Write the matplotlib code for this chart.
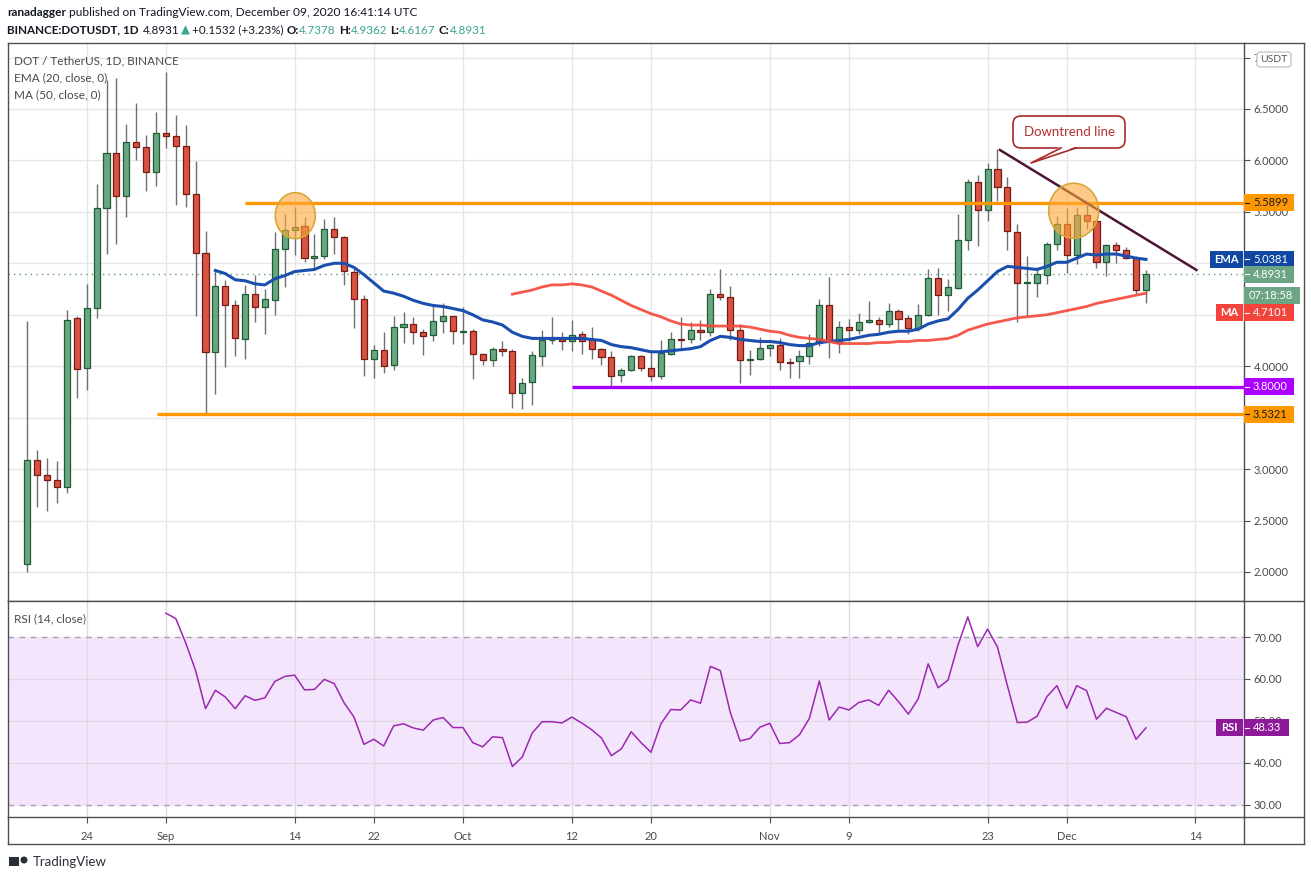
import matplotlib
matplotlib.use('Agg')
import matplotlib.pyplot as plt
from matplotlib.patches import Rectangle, Ellipse, FancyBboxPatch, Polygon
import numpy as np
import pandas as pd

plt.rcParams['font.family'] = ['Lato', 'DejaVu Sans']

# daily candles, BINANCE DOT/USDT, 18 Aug - 9 Dec 2020
dates = pd.date_range('2020-08-18', '2020-12-09', freq='D')

opens = [2.08, 3.09, 2.94, 2.89, 2.83, 4.47, 3.98, 4.57, 5.54, 6.07,
         5.65, 6.18, 6.13, 5.89, 6.27, 6.24, 6.14, 5.67, 5.10, 4.14,
         4.78, 4.59, 4.26, 4.70, 4.58, 4.64, 5.14, 5.32, 5.36, 5.05,
         5.07, 5.33, 5.26, 4.92, 4.65, 4.07, 4.16, 4.01, 4.38, 4.41,
         4.33, 4.30, 4.44, 4.49, 4.335, 4.34, 4.12, 4.06, 4.17, 4.15,
         3.74, 3.85, 4.10, 4.25, 4.26, 4.24, 4.31, 4.26, 4.17, 4.09,
         3.91, 3.96, 4.10, 3.98, 3.90, 4.12, 4.26, 4.26, 4.35, 4.33,
         4.70, 4.67, 4.35, 4.06, 4.07, 4.18, 4.21, 4.04, 4.05, 4.10,
         4.23, 4.59, 4.23, 4.38, 4.35, 4.43, 4.45, 4.41, 4.54, 4.47,
         4.37, 4.50, 4.86, 4.69, 4.76, 5.23, 5.79, 5.52, 5.92, 5.74,
         5.30, 4.81, 4.81, 4.89, 5.19, 5.38, 5.08, 5.47, 5.41, 5.01,
         5.18, 5.13, 5.05, 4.7378]
highs = [4.44, 3.19, 3.11, 3.08, 4.55, 4.49, 4.80, 5.77, 6.78, 6.80,
         6.35, 6.56, 6.25, 6.47, 6.86, 6.44, 6.34, 5.99, 5.31, 4.94,
         4.84, 4.64, 4.79, 4.89, 4.75, 5.30, 5.48, 5.55, 5.45, 5.28,
         5.43, 5.45, 5.27, 4.97, 4.69, 4.21, 4.33, 4.49, 4.53, 4.48,
         4.36, 4.59, 4.61, 4.49, 4.58, 4.36, 4.13, 4.19, 4.24, 4.17,
         3.89, 4.15, 4.35, 4.48, 4.33, 4.45, 4.34, 4.38, 4.18, 4.15,
         3.98, 4.11, 4.11, 4.14, 4.25, 4.33, 4.48, 4.43, 4.45, 4.75,
         4.94, 4.78, 4.41, 4.16, 4.28, 4.22, 4.27, 4.08, 4.16, 4.31,
         4.65, 4.87, 4.44, 4.46, 4.52, 4.63, 4.48, 4.61, 4.56, 4.50,
         4.60, 4.94, 4.95, 4.85, 5.48, 5.82, 5.86, 5.97, 6.11, 5.84,
         5.38, 5.07, 4.96, 5.21, 5.46, 5.54, 5.55, 5.57, 5.43, 5.19,
         5.21, 5.16, 5.07, 4.9362]
lows = [2.00, 2.63, 2.59, 2.67, 2.77, 3.69, 3.77, 4.47, 5.09, 5.19,
        5.45, 6.00, 5.70, 5.75, 6.12, 5.57, 5.55, 4.49, 3.53, 3.73,
        3.99, 4.10, 4.07, 4.43, 4.31, 4.50, 4.77, 5.08, 5.01, 4.95,
        5.04, 5.09, 4.79, 4.37, 3.90, 3.89, 3.93, 3.96, 4.23, 4.22,
        4.11, 4.24, 4.32, 4.22, 4.22, 3.88, 4.01, 4.00, 4.10, 3.59,
        3.58, 3.62, 4.00, 4.22, 4.16, 4.15, 4.12, 4.07, 4.01, 3.79,
        3.85, 3.95, 3.95, 3.86, 3.88, 4.11, 4.18, 4.23, 4.25, 4.29,
        4.64, 4.25, 3.84, 3.91, 4.06, 4.10, 3.96, 3.89, 3.89, 4.02,
        4.20, 4.08, 4.13, 4.24, 4.31, 4.42, 4.31, 4.38, 4.35, 4.31,
        4.34, 4.49, 4.50, 4.54, 4.75, 5.13, 5.17, 5.41, 5.61, 5.13,
        4.43, 4.49, 4.67, 4.80, 5.13, 4.91, 4.99, 5.33, 4.95, 4.88,
        5.00, 5.04, 4.70, 4.6167]
closes = [3.09, 2.94, 2.89, 2.83, 4.45, 3.97, 4.57, 5.54, 6.07, 5.65,
          6.18, 6.13, 5.89, 6.27, 6.24, 6.14, 5.67, 5.10, 4.14, 4.78,
          4.59, 4.27, 4.70, 4.58, 4.65, 5.14, 5.32, 5.35, 5.05, 5.07,
          5.33, 5.26, 4.93, 4.65, 4.07, 4.16, 4.00, 4.38, 4.41, 4.33,
          4.29, 4.44, 4.49, 4.34, 4.34, 4.12, 4.06, 4.17, 4.15, 3.74,
          3.84, 4.11, 4.25, 4.255, 4.24, 4.30, 4.24, 4.17, 4.09, 3.90,
          3.96, 4.10, 3.98, 3.90, 4.13, 4.26, 4.255, 4.35, 4.33, 4.70,
          4.67, 4.35, 4.06, 4.07, 4.18, 4.21, 4.04, 4.03, 4.10, 4.23,
          4.59, 4.24, 4.38, 4.35, 4.43, 4.45, 4.41, 4.54, 4.46, 4.37,
          4.50, 4.86, 4.69, 4.77, 5.23, 5.79, 5.52, 5.92, 5.74, 5.31,
          4.81, 4.82, 4.90, 5.19, 5.38, 5.08, 5.47, 5.41, 5.01, 5.18,
          5.13, 5.05, 4.74, 4.8931]

# EMA 20 starts on candle 20, MA 50 on candle 50, RSI 14 on candle 15
ema20 = [4.93, 4.90, 4.84, 4.83, 4.80, 4.79, 4.85, 4.88, 4.92, 4.93,
         4.94, 4.98, 5.00, 5.00, 4.96, 4.89, 4.81, 4.73, 4.71, 4.68,
         4.64, 4.61, 4.59, 4.58, 4.56, 4.54, 4.50, 4.45, 4.43, 4.40,
         4.33, 4.29, 4.27, 4.27, 4.27, 4.27, 4.27, 4.27, 4.26, 4.25,
         4.21, 4.19, 4.18, 4.16, 4.14, 4.14, 4.15, 4.16, 4.17, 4.19,
         4.25, 4.29, 4.28, 4.26, 4.25, 4.24, 4.24, 4.23, 4.21, 4.20,
         4.20, 4.23, 4.24, 4.25, 4.26, 4.28, 4.30, 4.31, 4.33, 4.34,
         4.34, 4.36, 4.41, 4.44, 4.46, 4.55, 4.66, 4.74, 4.83, 4.92,
         4.97, 4.96, 4.95, 4.94, 4.97, 5.01, 5.01, 5.05, 5.09, 5.08,
         5.09, 5.09, 5.07, 5.05, 5.0381]
ma50 = [4.70, 4.72, 4.74, 4.77, 4.79, 4.79, 4.80, 4.79, 4.77, 4.73,
        4.69, 4.64, 4.59, 4.55, 4.51, 4.48, 4.44, 4.41, 4.40, 4.40,
        4.39, 4.39, 4.39, 4.39, 4.38, 4.36, 4.34, 4.33, 4.30, 4.28,
        4.27, 4.26, 4.24, 4.22, 4.22, 4.22, 4.22, 4.23, 4.23, 4.24,
        4.24, 4.25, 4.25, 4.26, 4.27, 4.30, 4.35, 4.38, 4.41, 4.43,
        4.45, 4.47, 4.48, 4.49, 4.50, 4.52, 4.54, 4.56, 4.58, 4.61,
        4.63, 4.65, 4.67, 4.69, 4.7101]
rsi14 = [75.7, 74.4, 68.6, 62.0, 52.9, 57.3, 55.7, 52.9, 56.0, 54.9,
         55.5, 59.4, 60.6, 60.9, 57.4, 57.5, 59.9, 58.9, 54.3, 50.9,
         44.4, 45.6, 44.0, 48.8, 49.3, 48.3, 47.8, 50.2, 50.8, 48.4,
         48.4, 44.8, 43.8, 46.2, 46.0, 39.1, 41.4, 47.1, 49.8, 49.8,
         49.5, 50.9, 49.5, 47.9, 45.9, 41.7, 43.3, 47.4, 44.8, 42.5,
         49.3, 52.7, 52.6, 55.0, 54.2, 63.0, 62.0, 52.1, 45.2, 45.8,
         48.5, 49.4, 44.6, 44.8, 46.7, 50.6, 59.5, 50.2, 53.3, 52.6,
         54.4, 55.0, 53.7, 57.3, 54.6, 51.6, 55.3, 63.6, 57.9, 59.7,
         68.0, 74.8, 67.7, 71.9, 67.6, 58.4, 49.6, 49.7, 51.1, 55.8,
         58.4, 53.0, 58.4, 57.2, 50.4, 53.0, 52.0, 51.0, 45.6, 48.33]

resistance = 5.5899
support_low = 3.5321
support_mid = 3.80
countdown = '07:18:58'

tick_dates = ['2020-08-24', '2020-09-01', '2020-09-14', '2020-09-22', '2020-10-01',
              '2020-10-12', '2020-10-20', '2020-11-01', '2020-11-09', '2020-11-23',
              '2020-12-01', '2020-12-14']
tick_labels = ['24', 'Sep', '14', '22', 'Oct', '12', '20', 'Nov', '9', '23', 'Dec', '14']

W, H = 1311, 881
fig = plt.figure(figsize=(W / 100, H / 100), dpi=100)


def rect(l, t, r, b):
    return [l / W, 1 - b / H, (r - l) / W, (b - t) / H]


ax = fig.add_axes(rect(8, 43, 1244, 601))
axr = fig.add_axes(rect(8, 601, 1244, 817), sharex=ax)
ov = fig.add_axes([0, 0, 1, 1])
ov.set_xlim(0, W)
ov.set_ylim(H, 0)
ov.axis('off')
ov.set_zorder(5)

x = np.arange(len(dates))
o = np.array(opens)
c = np.array(closes)
up = c >= o
body_lo = np.minimum(o, c)
body_h = np.maximum(np.abs(c - o), 0.008)

grid_c = '#e6e6e6'
frame_c = '#4f4f4f'
txt_c = '#4a4a4a'

# ---- price pane ----
ax.set_xlim(-1.95, 122.9)
ax.set_ylim(1.718, 7.141)
ax.vlines(x, lows, highs, color='#707074', lw=1, zorder=2)
ax.bar(x[up], body_h[up], 0.62, bottom=body_lo[up], color='#6ba683',
       edgecolor='#1f5b34', lw=0.9, zorder=3)
ax.bar(x[~up], body_h[~up], 0.62, bottom=body_lo[~up], color='#d85343',
       edgecolor='#761b12', lw=0.9, zorder=3)
ax.plot(x[19:], ema20, color='#1b4fae', lw=2.2, zorder=4)
ax.plot(x[49:], ma50, color='#f4473a', lw=2.0, alpha=0.9, zorder=4)
ax.axhline(closes[-1], color='#5e9e76', ls=(0, (1, 3)), lw=1, zorder=1)

ax.hlines(resistance, 22.0, 123, color='#ff9800', lw=2.4, zorder=5)
ax.hlines(support_low, 13.1, 123, color='#ff9800', lw=2.4, zorder=5)
ax.hlines(support_mid, 55.0, 123, color='#aa00ff', lw=2.4, zorder=5)
ax.plot([98.25, 118.1], [6.101, 4.935], color='#4d1537', lw=1.8, zorder=6)

ax.add_patch(Ellipse((27.07, 5.463), 4.04, 0.447, fc=(1.0, 0.66, 0.22, 0.6),
                     ec='#d6a83a', lw=1.2, zorder=7))
ax.add_patch(Ellipse((105.7, 5.511), 5.05, 0.534, fc=(1.0, 0.66, 0.22, 0.6),
                     ec='#d6a83a', lw=1.2, zorder=7))

price_ticks = np.arange(2.0, 7.01, 0.5)
ax.yaxis.tick_right()
ax.set_yticks(price_ticks)
ax.set_yticklabels(['%.4f' % v for v in price_ticks])
ax.tick_params(axis='y', length=4, color=frame_c, labelcolor=txt_c, labelsize=8, pad=3)
ax.tick_params(axis='x', length=0, labelbottom=False)
ax.grid(color=grid_c, lw=1)
ax.set_axisbelow(True)

# ---- RSI pane ----
axr.set_ylim(27.06, 78.6)
axr.axhspan(30, 70, color='#f3e6fc', zorder=0.1)
axr.axhline(70, color='#a8a0ac', ls=(0, (4, 4)), lw=1, zorder=1)
axr.axhline(30, color='#a8a0ac', ls=(0, (4, 4)), lw=1, zorder=1)
axr.plot(x[14:], rsi14, color='#9c27b0', lw=1.1, zorder=3)
axr.yaxis.tick_right()
axr.set_yticks([30, 40, 50, 60, 70])
axr.set_yticklabels(['30.00', '40.00', '50.00', '60.00', '70.00'])
axr.tick_params(axis='y', length=4, color=frame_c, labelcolor=txt_c, labelsize=8, pad=3)
axr.grid(color='#e0d8e6', lw=1)
axr.set_axisbelow(True)
for i in (0, 4):
    axr.get_ygridlines()[i].set_visible(False)

tick_pos = [(pd.Timestamp(d) - dates[0]).days for d in tick_dates]
axr.set_xticks(tick_pos)
axr.set_xticklabels(tick_labels)
axr.tick_params(axis='x', length=4, color=frame_c, labelcolor=txt_c, labelsize=8, pad=6)

for a in (ax, axr):
    for s in a.spines.values():
        s.set_color(frame_c)
        s.set_linewidth(1)

# ---- frame outside the panes ----
for (x0, y0, x1, y1) in [(1244, 43, 1304, 43), (1304, 43, 1304, 844), (8, 844, 1304, 844),
                         (8, 817, 8, 844), (1244, 601, 1304, 601), (1244, 817, 1304, 817),
                         (1244, 817, 1244, 844)]:
    ov.plot([x0, x1], [y0, y1], color=frame_c, lw=1, zorder=1)


def ypx(axis, v):
    return H - axis.transData.transform((0, v))[1]


tag_centres = []


def tag_at(yc, text, bg, fg, x1=1294, left=None, left_x0=1216):
    tag_centres.append(yc)
    ov.add_patch(Rectangle((1244, yc - 8.5), x1 - 1244, 17, fc=bg, ec='none', zorder=10))
    ov.plot([1245, 1249], [yc, yc], color=fg, lw=0.8, zorder=11)
    ov.text(1253, yc, text, color=fg, fontsize=8, va='center', ha='left', zorder=11)
    if left:
        ov.add_patch(Rectangle((left_x0, yc - 8.5), 1243 - left_x0, 17, fc=bg, ec='none', zorder=10))
        ov.text((left_x0 + 1243) / 2, yc, left, color=fg, fontsize=8, fontweight='bold',
                va='center', ha='center', zorder=11)


tag_at(ypx(ax, resistance), '%.4f' % resistance, '#ff9800', '#1a1a1a')
tag_at(ypx(ax, ema20[-1]), '%.4f' % ema20[-1], '#0f47a3', 'white', left='EMA', left_x0=1210)
y_last = ypx(ax, closes[-1])
tag_at(y_last, '%.4f' % closes[-1], '#6ba583', 'white')
# countdown box sits under the last price; the MA tag is pushed below it
y_cd = y_last + 21.4
ov.add_patch(Rectangle((1244, y_cd - 8.5), 56, 17, fc='#6ba583', ec='none', zorder=10))
ov.text(1249, y_cd, countdown, color='white', fontsize=8, va='center', zorder=11)
tag_at(max(ypx(ax, ma50[-1]), y_cd + 17), '%.4f' % ma50[-1], '#f4433b', 'white', left='MA')
tag_at(ypx(ax, support_mid), '%.4f' % support_mid, '#aa00ff', 'white')
tag_at(ypx(ax, support_low), '%.4f' % support_low, '#ff9800', '#1a1a1a')

# price labels that sit fully under a tag are not visible in the original
for v, lab in zip(price_ticks, ax.get_yticklabels()):
    if any(abs(ypx(ax, v) - yc) < 6 for yc in tag_centres):
        lab.set_visible(False)

tag_at(ypx(axr, rsi14[-1]), '%.2f' % rsi14[-1], '#8e1a9a', 'white', x1=1289, left='RSI')

ov.add_patch(FancyBboxPatch((1257, 52), 34, 15, boxstyle='round,pad=0,rounding_size=3',
                            fc='white', ec='#c8c8c8', lw=1, zorder=10))
ov.text(1274, 59.5, 'USDT', color='#555555', fontsize=7.5, ha='center', va='center', zorder=11)

# ---- callout ----
red_c = '#a82a2a'
ov.add_patch(FancyBboxPatch((1013, 116), 112, 32, boxstyle='round,pad=0,rounding_size=8',
                            fc='white', ec=red_c, lw=1.2, zorder=8))
ov.add_patch(Polygon([(1061, 146.5), (1031, 163), (1076, 146.5)], closed=True,
                     fc='white', ec='none', zorder=9))
ov.plot([1061, 1031, 1076], [148, 163, 148], color=red_c, lw=1.2, zorder=9)
ov.text(1069, 132, 'Downtrend line', color='#b03030', fontsize=9.5, ha='center', va='center', zorder=9)

# ---- pane legends ----
ov.text(14, 61, 'DOT / TetherUS, 1D, BINANCE', color=txt_c, fontsize=8.5, va='center')
ov.text(14, 78, 'EMA (20, close, 0)', color=txt_c, fontsize=8.5, va='center')
ov.text(14, 95, 'MA (50, close, 0)', color=txt_c, fontsize=8.5, va='center')
ov.text(14, 619, 'RSI (14, close)', color=txt_c, fontsize=8.5, va='center')

# ---- header rows ----
renderer = fig.canvas.get_renderer()


def text_row(x0, y0, parts, size):
    for s, weight, color, gap in parts:
        t = ov.text(x0, y0, s, fontsize=size, fontweight=weight, color=color, va='center')
        x0 = t.get_window_extent(renderer=renderer).x1 + gap


dark = '#131722'
teal = '#3aa58f'
text_row(7, 13, [('ranadagger', 'bold', dark, 3),
                 ('published on TradingView.com, December 09, 2020 16:41:14 UTC', 'normal', dark, 0)], 8.6)
text_row(7, 30, [('BINANCE:DOTUSDT, 1D', 'bold', dark, 4),
                 ('4.8931', 'normal', dark, 2),
                 ('\u25b2', 'normal', teal, 2),
                 ('+0.1532 (+3.23%)', 'normal', dark, 3),
                 ('O:', 'bold', dark, 0), ('4.7378', 'normal', teal, 3),
                 ('H:', 'bold', dark, 0), ('4.9362', 'normal', teal, 3),
                 ('L:', 'bold', dark, 0), ('4.6167', 'normal', teal, 3),
                 ('C:', 'bold', dark, 0), ('4.8931', 'normal', teal, 0)], 8.4)

# ---- footer logo ----
ov.add_patch(Rectangle((9, 857), 10, 9, fc='#2a2e39', ec='none'))
ov.add_patch(Ellipse((24, 860), 7, 7, fc='#2a2e39', ec='none'))
ov.text(33, 862, 'TradingView', color='#2a2e39', fontsize=9.5, va='center')

fig.savefig('out.png', dpi=100)
